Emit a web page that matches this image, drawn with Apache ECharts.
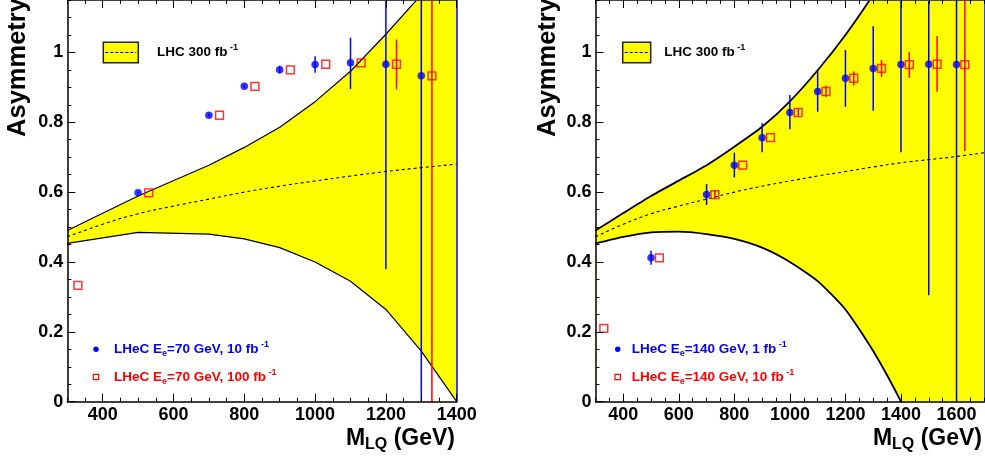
<!DOCTYPE html>
<html><head><meta charset="utf-8">
<script src="https://cdn.jsdelivr.net/npm/echarts@6/dist/echarts.min.js"></script>
<style>html,body{margin:0;padding:0;background:#fff}#c{width:985px;height:462px}</style>
</head><body><div id="c"></div>
<script>
// ---------- DATA ----------
// Left panel: Ee = 70 GeV
const bandMassL  = [300, 500, 700, 800, 900, 1000, 1100, 1200, 1300, 1400];
const bandUpperL = [0.49, 0.589, 0.677, 0.728, 0.786, 0.859, 0.946, 1.052, 1.165, 1.29];
const bandLowerL = [0.453, 0.485, 0.48, 0.466, 0.441, 0.40, 0.345, 0.264, 0.145, 0.0];
const dashMassL  = [300, 400, 500, 600, 700, 800, 900, 1000, 1100, 1200, 1300, 1400];
const dashL      = [0.472, 0.508, 0.538, 0.56, 0.58, 0.60, 0.617, 0.632, 0.646, 0.659, 0.670, 0.68];
const blueXL  = [500, 700, 800, 900, 1000, 1100, 1200, 1300];
const blueYL  = [0.598, 0.82, 0.903, 0.95, 0.965, 0.97, 0.966, 0.933];
const blueLoL = [0.595, 0.815, 0.898, 0.94, 0.942, 0.895, 0.379, -1];
const blueHiL = [0.601, 0.825, 0.908, 0.962, 0.989, 1.042, 2, 2];
const redXL   = [330, 530, 730, 830, 930, 1030, 1130, 1230, 1330];
const redYL   = [0.333, 0.598, 0.82, 0.903, 0.95, 0.966, 0.97, 0.966, 0.933];
const redLoL  = [0.333, 0.598, 0.82, 0.903, 0.95, 0.966, 0.97, 0.894, -1];
const redHiL  = [0.333, 0.598, 0.82, 0.903, 0.95, 0.966, 0.97, 1.037, 2];

// Right panel: Ee = 140 GeV
const bandMassR  = [300, 400, 500, 600, 700, 800, 900, 1000, 1100, 1200, 1300, 1400, 1500, 1600, 1700];
const bandUpperR = [0.49, 0.54, 0.589, 0.633, 0.677, 0.73, 0.787, 0.86, 0.949, 1.05, 1.165, 1.29, 1.43, 1.58, 1.74];
const bandLowerR = [0.453, 0.472, 0.485, 0.487, 0.48, 0.466, 0.441, 0.40, 0.345, 0.264, 0.145, 0.0, -0.17, -0.37, -0.6];
const dashR      = [0.472, 0.508, 0.538, 0.56, 0.58, 0.60, 0.617, 0.632, 0.646, 0.659, 0.672, 0.684, 0.693, 0.702, 0.713];
const blueXR  = [500, 700, 800, 900, 1000, 1100, 1200, 1300, 1400, 1500, 1600];
const blueYR  = [0.412, 0.593, 0.677, 0.756, 0.828, 0.888, 0.926, 0.954, 0.965, 0.966, 0.965];
const blueLoR = [0.392, 0.563, 0.642, 0.714, 0.780, 0.830, 0.844, 0.833, 0.714, 0.305, -1];
const blueHiR = [0.432, 0.623, 0.713, 0.797, 0.878, 0.946, 1.007, 1.075, 2, 2, 2];
const redXR   = [330, 530, 730, 830, 930, 1030, 1130, 1230, 1330, 1430, 1530, 1630];
const redYR   = [0.21, 0.412, 0.593, 0.677, 0.756, 0.828, 0.888, 0.926, 0.954, 0.965, 0.966, 0.965];
const redLoR  = [0.21, 0.412, 0.58, 0.677, 0.756, 0.818, 0.872, 0.905, 0.93, 0.927, 0.887, 0.718];
const redHiR  = [0.21, 0.412, 0.605, 0.677, 0.756, 0.838, 0.905, 0.945, 0.978, 1.002, 1.047, 2];

// Axis ticks / labels
const xMajorsL = [400, 600, 800, 1000, 1200, 1400];
const xMajorsR = [400, 600, 800, 1000, 1200, 1400, 1600];
const yMajors  = [0, 0.2, 0.4, 0.6, 0.8, 1];
const Y_MIN = 0, Y_MAX = 1.15;

// ---------- CHART ----------
const FONT = '"Liberation Sans", Arial, Helvetica, sans-serif';
const BLUE = '#0000ff', RED = '#ff0000', YEL = '#ffff00';
const LBL = {color: '#000', fontFamily: FONT, fontWeight: 'bold', fontSize: 18};

function xAxes(g, min, max, majors) {
  const base = {gridIndex: g, type: 'value', min, max, z: 10, splitLine: {show: false}};
  return [
    Object.assign({}, base, {position: 'bottom', interval: 50,
      axisLine: {onZero: false, lineStyle: {color: '#000', width: 1.5}},
      axisTick: {inside: true, length: 4, lineStyle: {color: '#000', width: 1}},
      axisLabel: {show: false}}),
    Object.assign({}, base, {position: 'bottom',
      axisLine: {show: false, onZero: false},
      axisTick: {inside: true, length: 8, customValues: majors, lineStyle: {color: '#000', width: 1}},
      axisLabel: Object.assign({customValues: majors, margin: 4, formatter: v => String(v)}, LBL)}),
    Object.assign({}, base, {position: 'top', interval: 50,
      axisLine: {onZero: false, lineStyle: {color: '#444', width: 1}},
      axisTick: {inside: true, length: 4, lineStyle: {color: '#000', width: 1}},
      axisLabel: {show: false}}),
    Object.assign({}, base, {position: 'top',
      axisLine: {show: false, onZero: false},
      axisTick: {inside: true, length: 8, customValues: majors, lineStyle: {color: '#000', width: 1}},
      axisLabel: {show: false}})
  ];
}
function yAxes(g) {
  const base = {gridIndex: g, type: 'value', min: Y_MIN, max: Y_MAX, z: 10, splitLine: {show: false}};
  return [
    Object.assign({}, base, {position: 'left', interval: 0.05,
      axisLine: {onZero: false, lineStyle: {color: '#000', width: 1.5}},
      axisTick: {inside: true, length: 4, lineStyle: {color: '#000', width: 1}},
      axisLabel: {show: false}}),
    Object.assign({}, base, {position: 'left',
      axisLine: {show: false, onZero: false},
      axisTick: {inside: true, length: 8, customValues: yMajors, lineStyle: {color: '#000', width: 1}},
      axisLabel: Object.assign({customValues: yMajors, margin: 4,
        formatter: v => String(Math.round(v * 10) / 10)}, LBL)}),
    Object.assign({}, base, {position: 'right',
      axisLine: {show: true, onZero: false, lineStyle: {color: BLUE, width: 1.5}},
      axisTick: {show: false}, axisLabel: {show: false}})
  ];
}

function zip(a, b) { return a.map((v, i) => [v, b[i]]); }

function panelSeries(g, bandX, lower, upper, smooth, lw, dashX, dash, bx, by, blo, bhi, rx, ry, rlo, rhi) {
  const xi = g * 4, yi = g * 3;
  const errSeries = (xs, lo, hi, color) => ({
    type: 'custom', xAxisIndex: xi, yAxisIndex: yi, silent: true, z: 3,
    data: xs.map((x, i) => [x, lo[i], hi[i]]),
    encode: {x: 0, y: [1, 2]},
    renderItem: (params, api) => {
      const x = api.value(0);
      const p1 = api.coord([x, Math.max(api.value(1), Y_MIN)]);
      const p2 = api.coord([x, Math.min(api.value(2), Y_MAX)]);
      return {type: 'line', shape: {x1: p1[0], y1: p1[1], x2: p2[0], y2: p2[1]},
        style: {stroke: color, lineWidth: 1.5}};
    }
  });
  return [
    // upper edge of LHC band, yellow filled down to the axis
    {type: 'line', xAxisIndex: xi, yAxisIndex: yi, data: zip(bandX, upper), showSymbol: false, symbol: 'none', smooth,
     lineStyle: {color: '#000', width: lw}, areaStyle: {color: YEL, opacity: 1, origin: 'start'}, z: 1},
    // lower edge, white below it
    {type: 'line', xAxisIndex: xi, yAxisIndex: yi, data: zip(bandX, lower), showSymbol: false, symbol: 'none', smooth,
     lineStyle: {color: '#000', width: lw}, areaStyle: {color: '#fff', opacity: 1, origin: 'start'}, z: 1},
    {type: 'line', xAxisIndex: xi, yAxisIndex: yi, data: zip(dashX, dash), showSymbol: false, symbol: 'none',
     smooth: true, lineStyle: {color: '#000', width: 1.1, type: [3, 3]}, z: 2},
    errSeries(bx, blo, bhi, BLUE),
    errSeries(rx, rlo, rhi, RED),
    {type: 'scatter', xAxisIndex: xi, yAxisIndex: yi, data: zip(bx, by), symbol: 'circle', symbolSize: 7.5,
     itemStyle: {color: BLUE}, z: 4},
    {type: 'scatter', xAxisIndex: xi, yAxisIndex: yi, data: zip(rx, ry), symbol: 'rect', symbolSize: 7.8,
     itemStyle: {color: 'rgba(0,0,0,0)', borderColor: RED, borderWidth: 1.5}, z: 4}
  ];
}

const richLegend = (color) => ({
  b:   {fontFamily: FONT, fontWeight: 'bold', fontSize: 13.5, lineHeight: 18, fill: color},
  sup: {fontFamily: FONT, fontWeight: 'bold', fontSize: 9, lineHeight: 9, verticalAlign: 'top', fill: color},
  sub: {fontFamily: FONT, fontWeight: 'bold', fontSize: 9, lineHeight: 6, verticalAlign: 'bottom', fill: color}
});
const richTitle = {
  m: {fontFamily: FONT, fontWeight: 'bold', fontSize: 23, lineHeight: 28, fill: '#000'},
  s: {fontFamily: FONT, fontWeight: 'bold', fontSize: 16, lineHeight: 8, verticalAlign: 'bottom', fill: '#000'}
};
function txt(x, y, text, rich, align) {
  return {type: 'text', x, y, z: 100, style: {text, rich, align: align || 'left', verticalAlign: 'middle'}};
}
function legendGraphics(bx, bw, tx, mx, lx, ee, lumBlue, lumRed) {
  return [
    {type: 'rect', z: 100, shape: {x: bx, y: 42.3, width: bw, height: 20.5}, style: {fill: YEL, stroke: '#222', lineWidth: 1.5}},
    {type: 'line', z: 101, shape: {x1: bx + 2, y1: 52.5, x2: bx + bw - 2, y2: 52.5}, style: {stroke: '#000', lineWidth: 1, lineDash: [3, 2]}},
    txt(tx, 52.5, '{b|LHC 300 fb}{sup| -1}', richLegend('#000')),
    {type: 'circle', z: 100, shape: {cx: mx, cy: 349.3, r: 2.7}, style: {fill: BLUE}},
    txt(lx, 349.3, '{b|LHeC E}{sub|e}{b|=' + ee + ' GeV, ' + lumBlue + ' fb}{sup| -1}', richLegend(BLUE)),
    {type: 'rect', z: 100, shape: {x: mx - 2.7, y: 377 - 2.7, width: 5.4, height: 5.4}, style: {fill: 'none', stroke: RED, lineWidth: 1.2}},
    txt(lx, 377, '{b|LHeC E}{sub|e}{b|=' + ee + ' GeV, ' + lumRed + ' fb}{sup| -1}', richLegend(RED))
  ];
}

const option = {
  animation: false,
  backgroundColor: '#fff',
  grid: [
    {left: 67.3, top: 0, width: 389.4, height: 401.7},
    {left: 595.5, top: 0, width: 388.8, height: 401.7}
  ],
  xAxis: [].concat(xAxes(0, 300, 1400, xMajorsL), xAxes(1, 300, 1700, xMajorsR)),
  yAxis: [].concat(yAxes(0), yAxes(1)),
  series: [].concat(
    panelSeries(0, bandMassL, bandLowerL, bandUpperL, false, 1.2, dashMassL, dashL,
      blueXL, blueYL, blueLoL, blueHiL, redXL, redYL, redLoL, redHiL),
    panelSeries(1, bandMassR, bandLowerR, bandUpperR, 0.2, 1.8, bandMassR, dashR,
      blueXR, blueYR, blueLoR, blueHiR, redXR, redYR, redLoR, redHiR)
  ),
  graphic: [].concat(
    legendGraphics(103.3, 35, 157, 96, 114, '70', '10', '100'),
    legendGraphics(622.7, 28, 664.3, 617.7, 631.7, '140', '1', '10'),
    [
      {type: 'text', x: 18, y: 67.5, rotation: Math.PI / 2, z: 100,
       style: {text: 'Asymmetry', fontFamily: FONT, fontWeight: 'bold', fontSize: 25.5, fill: '#000', align: 'center', verticalAlign: 'middle'}},
      {type: 'text', x: 547.5, y: 67.5, rotation: Math.PI / 2, z: 100,
       style: {text: 'Asymmetry', fontFamily: FONT, fontWeight: 'bold', fontSize: 25.5, fill: '#000', align: 'center', verticalAlign: 'middle'}},
      txt(455, 438.3, '{m|M}{s|LQ}{m| (GeV)}', richTitle, 'right'),
      txt(982, 438.3, '{m|M}{s|LQ}{m| (GeV)}', richTitle, 'right')
    ]
  )
};

const chart = echarts.init(document.getElementById('c'), null, {renderer: 'canvas'});
chart.setOption(option);
</script></body></html>
